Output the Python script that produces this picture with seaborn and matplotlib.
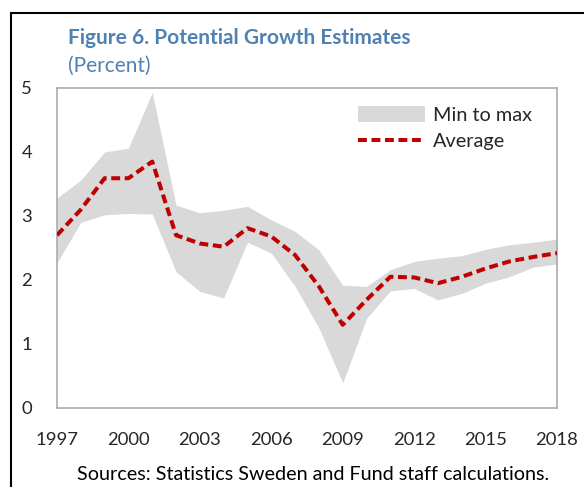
"""
Figure 6. Potential growth estimates (min-max band with average line).
"""

import numpy as np
import pandas as pd
import matplotlib
matplotlib.use("Agg")
import matplotlib.pyplot as plt
import seaborn as sns
from matplotlib.patches import Rectangle, Patch
from matplotlib.lines import Line2D

# ─────────────────────────────────────────────
# Data
# ─────────────────────────────────────────────
years = list(range(1997, 2019))
average = [2.70, 3.10, 3.59, 3.59, 3.85, 2.70, 2.57, 2.52, 2.81, 2.68, 2.39,
           1.90, 1.30, 1.69, 2.05, 2.04, 1.95, 2.05, 2.18, 2.29, 2.36, 2.42]
max_est = [3.28, 3.56, 4.00, 4.06, 4.93, 3.17, 3.05, 3.09, 3.15, 2.94, 2.76,
           2.47, 1.92, 1.90, 2.16, 2.29, 2.34, 2.38, 2.48, 2.55, 2.59, 2.64]
min_est = [2.27, 2.90, 3.02, 3.04, 3.03, 2.13, 1.82, 1.72, 2.59, 2.42, 1.90,
           1.25, 0.39, 1.40, 1.83, 1.87, 1.69, 1.79, 1.95, 2.05, 2.20, 2.25]
xtick_years = [1997, 2000, 2003, 2006, 2009, 2012, 2015, 2018]
ytick_vals = [0, 1, 2, 3, 4, 5]

title = "Figure 6. Potential Growth Estimates"
subtitle = "(Percent)"
source = "Sources: Statistics Sweden and Fund staff calculations."

# ─────────────────────────────────────────────
# Styling
# ─────────────────────────────────────────────
BLUE = "#4F81B3"
RED = "#C00000"
BAND = "#D9D9D9"
SPINE = "#ABABAB"
DASH = (0, (2.2, 1.15))

sns.set_style("white")
plt.rcParams["font.family"] = ["Lato", "DejaVu Sans"]

df = pd.DataFrame({"year": years, "average": average,
                   "min": min_est, "max": max_est})

fig = plt.figure(figsize=(5.84, 4.87), dpi=100)
ax = fig.add_axes([57 / 584, 1 - 408 / 487, 500 / 584, 320 / 487])

ax.fill_between(df["year"], df["min"], df["max"], color=BAND, lw=0, zorder=1)
sns.lineplot(data=df, x="year", y="average", ax=ax, color=RED, lw=2.9,
             linestyle=DASH, zorder=3)

ax.set_xlim(1997, 2018)
ax.set_ylim(0, 5)
ax.set_xticks(years, minor=True)
ax.set_xticks(xtick_years)
ax.set_xticklabels([str(y) for y in xtick_years], fontsize=13.3)
ax.set_yticks(ytick_vals)
ax.set_yticklabels([str(v) for v in ytick_vals], fontsize=13.3)
ax.tick_params(axis="x", which="both", direction="in", length=6,
               color=SPINE, width=1, pad=17)
ax.tick_params(axis="y", direction="in", length=6, color=SPINE, width=1, pad=18)
ax.set_xlabel("")
ax.set_ylabel("")
for s in ax.spines.values():
    s.set_color(SPINE)
    s.set_linewidth(1.2)

handles = [Patch(facecolor=BAND, edgecolor="none"),
           Line2D([0], [0], color=RED, lw=2.9, linestyle=DASH)]
ax.legend(handles, ["Min to max", "Average"], loc="upper left",
          bbox_to_anchor=(0.566, 1.0), frameon=False, fontsize=14.3,
          handlelength=3.4, handleheight=0.85, handletextpad=0.36,
          labelspacing=0.45)

# Titles and source
fig.text(68 / 584, 1 - 38 / 487, title, color=BLUE, fontsize=15,
         fontweight="bold", va="center", ha="left")
fig.text(68 / 584, 1 - 66 / 487, subtitle, color=BLUE, fontsize=15,
         va="center", ha="left")
fig.text(313 / 584, 1 - 474 / 487, source, color="black", fontsize=14.2,
         va="center", ha="center")

# Outer frame (partly cut off at the right and bottom)
fig.patches.append(Rectangle((11 / 584, -0.1), 1.2, 1 - 13 / 487 + 0.1,
                             transform=fig.transFigure, fill=False,
                             edgecolor="black", lw=1.5))

fig.savefig("out.png", dpi=100)
